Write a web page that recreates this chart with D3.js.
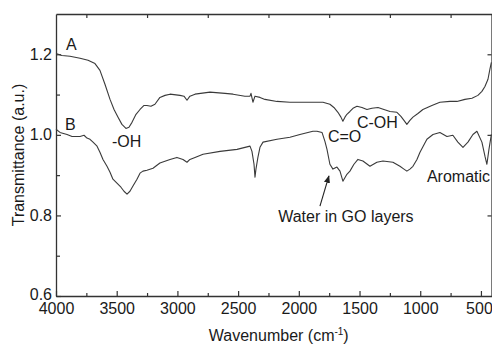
<!DOCTYPE html>
<html>
<head>
<meta charset="utf-8">
<script src="https://cdn.jsdelivr.net/npm/d3@7"></script>
<style>
body { margin: 0; background: #fff; }
svg text { font-family: "Liberation Sans", Arial, sans-serif; fill: #1a1a1a; }
.axis path, .axis line { stroke: #333; }
</style>
</head>
<body>
<div id="chart"></div>
<script>
// spectrum A (upper trace)
var waveA  = [4000,3951,3885,3802,3736,3679,3662,3638,3596,3555,3522,3489,3457,3424,3399,3374,3341,3308,3275,3251,3218,3185,3144,3102,3061,2979,2946,2921,2897,2855,2732,2608,2542,2444,2402,2394,2378,2361,2320,2279,2180,2073,1933,1801,1744,1711,1678,1653,1637,1620,1604,1579,1554,1521,1480,1439,1398,1348,1299,1249,1192,1159,1134,1110,1085,1060,1019,978,904,838,755,698,632,574,525,492,467,442,426,414];
var transA = [1.202,1.197,1.195,1.190,1.185,1.177,1.170,1.160,1.125,1.088,1.063,1.044,1.026,1.016,1.019,1.031,1.051,1.063,1.073,1.073,1.071,1.076,1.093,1.098,1.101,1.098,1.096,1.086,1.096,1.101,1.106,1.103,1.101,1.096,1.096,1.103,1.081,1.096,1.093,1.088,1.083,1.081,1.081,1.081,1.076,1.068,1.056,1.044,1.034,1.044,1.051,1.058,1.066,1.071,1.068,1.063,1.066,1.068,1.063,1.058,1.056,1.046,1.036,1.026,1.036,1.044,1.053,1.063,1.073,1.081,1.083,1.083,1.088,1.091,1.098,1.108,1.120,1.138,1.163,1.180];

// spectrum B (lower trace)
var waveB  = [4000,3967,3909,3868,3802,3769,3745,3720,3695,3662,3638,3613,3580,3555,3531,3498,3465,3440,3415,3391,3366,3333,3308,3284,3251,3201,3144,3061,3004,2954,2921,2897,2855,2789,2649,2509,2402,2386,2369,2361,2353,2337,2320,2295,2180,2073,1991,1884,1851,1809,1785,1768,1744,1719,1686,1661,1637,1604,1579,1546,1513,1472,1414,1357,1307,1225,1167,1134,1110,1085,1060,1027,1002,945,895,838,780,731,690,648,607,566,533,492,467,451,434,414];
var transB = [1.014,1.006,1.001,0.996,0.996,0.999,0.992,0.989,0.982,0.972,0.957,0.939,0.922,0.907,0.890,0.880,0.870,0.860,0.853,0.860,0.873,0.890,0.905,0.910,0.912,0.917,0.930,0.939,0.944,0.939,0.932,0.939,0.944,0.952,0.959,0.964,0.972,0.959,0.927,0.895,0.915,0.944,0.969,0.982,0.989,0.994,1.001,1.009,1.009,1.006,0.984,0.964,0.927,0.915,0.920,0.910,0.885,0.902,0.910,0.927,0.939,0.935,0.922,0.932,0.935,0.932,0.922,0.915,0.910,0.915,0.922,0.939,0.957,0.989,1.001,1.006,0.996,0.999,0.982,0.969,0.982,1.001,1.009,0.982,0.947,0.927,0.964,1.001];

var xMajor = [4000,3500,3000,2500,2000,1500,1000,500];
var xMinor = [3750,3250,2750,2250,1750,1250,750];
var yMajor = [0.6,0.8,1.0,1.2];
var yMinor = [0.7,0.9,1.1];
var yRightTicks = [0.8,1.0,1.2];

var seriesA = waveA.map(function (w, i) { return { w: w, t: transA[i] }; });
var seriesB = waveB.map(function (w, i) { return { w: w, t: transB[i] }; });

var W = 492, H = 344;
var margin = { top: 14, right: 0.5, bottom: 48, left: 56 };
var width = W - margin.left - margin.right;
var height = H - margin.top - margin.bottom;

var svg = d3.select("#chart").append("svg")
    .attr("width", W).attr("height", H)
  .append("g")
    .attr("transform", "translate(" + margin.left + "," + margin.top + ")");

var x = d3.scaleLinear().domain([4000, 413]).range([0, width]);
var y = d3.scaleLinear().domain([0.6, 1.3]).range([height, 0]);

// bottom axis, ticks pointing in
var xAxis = svg.append("g").attr("class", "axis")
    .attr("transform", "translate(0," + height + ")")
    .call(d3.axisBottom(x).tickValues(xMajor).tickSizeInner(-5).tickSizeOuter(0).tickFormat(d3.format("d")));
xAxis.selectAll("text").attr("y", 7).attr("font-size", 16);
// last label sits against the right edge, keep it inside
xAxis.selectAll(".tick").filter(function (d) { return d === 500; })
    .select("text").attr("x", -2);
svg.append("g").attr("class", "axis")
    .attr("transform", "translate(0," + height + ")")
    .call(d3.axisBottom(x).tickValues(xMinor).tickSize(-3).tickFormat(""))
    .select(".domain").remove();

// top axis: only the odd ticks
svg.append("g").attr("class", "axis")
    .call(d3.axisTop(x).tickValues(xMinor).tickSizeInner(-4).tickSizeOuter(0).tickFormat(""));

// left axis
var yAxis = svg.append("g").attr("class", "axis")
    .call(d3.axisLeft(y).tickValues(yMajor).tickSizeInner(-5).tickSizeOuter(0).tickFormat(d3.format(".1f")));
yAxis.selectAll("text").attr("x", -4).attr("font-size", 16);
yAxis.selectAll(".tick").filter(function (d) { return d === 0.6; })
    .select("text").attr("dy", "0.2em");
svg.append("g").attr("class", "axis")
    .call(d3.axisLeft(y).tickValues(yMinor).tickSize(-4).tickFormat(""))
    .select(".domain").remove();

// right axis
svg.append("g").attr("class", "axis")
    .attr("transform", "translate(" + width + ",0)")
    .call(d3.axisRight(y).tickValues(yRightTicks).tickSizeInner(-4).tickSizeOuter(0).tickFormat(""));

svg.selectAll(".axis .domain").attr("stroke-width", 1.3);
svg.selectAll(".axis .tick line").attr("stroke-width", 1.2);

// spectra
var line = d3.line()
    .x(function (d) { return x(d.w); })
    .y(function (d) { return y(d.t); });

[seriesA, seriesB].forEach(function (s) {
    svg.append("path")
        .datum(s)
        .attr("fill", "none")
        .attr("stroke", "#3a3a3a")
        .attr("stroke-width", 1.1)
        .attr("stroke-linejoin", "round")
        .attr("d", line);
});

// axis titles
var xt = svg.append("text")
    .attr("x", width / 2 + 5).attr("y", height + 45)
    .attr("text-anchor", "middle").attr("font-size", 16);
xt.append("tspan").text("Wavenumber (cm");
xt.append("tspan").attr("font-size", 10).attr("dy", -6).text("-1");
xt.append("tspan").attr("dy", 6).text(")");

svg.append("text")
    .attr("transform", "translate(" + (18.5 - margin.left) + "," + (height / 2) + ") rotate(-90)")
    .attr("text-anchor", "middle").attr("dy", "0.35em").attr("font-size", 16)
    .text("Transmittance (a.u.)");

// annotations
var notes = [
    { t: "A", w: 3918, v: 1.211 },
    { t: "B", w: 3926, v: 1.012 },
    { t: "-OH", w: 3539, v: 0.970 },
    { t: "C=O", w: 1760, v: 0.982 },
    { t: "C-OH", w: 1521, v: 1.017 },
    { t: "Aromatic", w: 945, v: 0.883 },
    { t: "Water in GO layers", w: 2170, v: 0.784 }
];
svg.selectAll("text.note").data(notes).enter().append("text")
    .attr("class", "note")
    .attr("x", function (d) { return x(d.w); })
    .attr("y", function (d) { return y(d.v); })
    .attr("font-size", 16)
    .text(function (d) { return d.t; });

// arrow to the water band
svg.append("defs").append("marker")
    .attr("id", "head").attr("viewBox", "0 0 10 10")
    .attr("refX", 9).attr("refY", 5)
    .attr("markerWidth", 7).attr("markerHeight", 7)
    .attr("orient", "auto")
  .append("path").attr("d", "M0,1L10,5L0,9Z").attr("fill", "#222");

svg.append("line")
    .attr("x1", x(1826)).attr("y1", y(0.823))
    .attr("x2", x(1752)).attr("y2", y(0.898))
    .attr("stroke", "#222").attr("stroke-width", 1.1)
    .attr("marker-end", "url(#head)");
</script>
</body>
</html>
